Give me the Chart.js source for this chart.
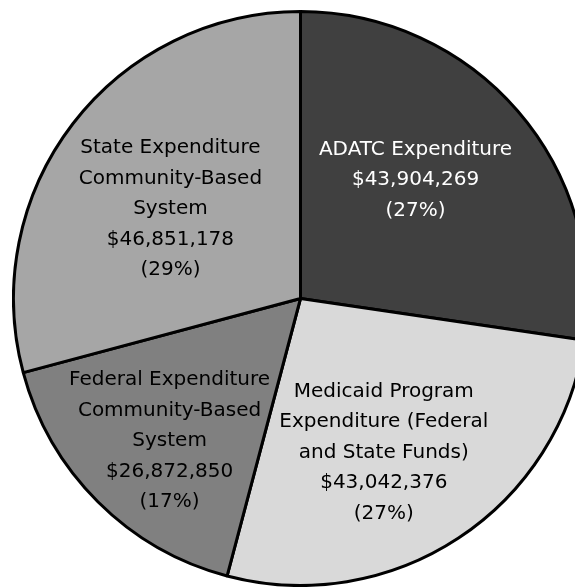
<!DOCTYPE html>
<html>

<head>
    <title>Expenditure Pie</title>
    <script src="https://cdn.jsdelivr.net/npm/chart.js@4.4.0/dist/chart.umd.min.js"></script>
    <style>
        html, body {
            margin: 0;
            padding: 0;
            background: #fff;
            overflow: hidden;
        }

        #wrap {
            position: absolute;
            left: 12px;
            top: 10px;
            width: 577px;
            height: 577px;
        }
    </style>
</head>

<body>
    <div id="wrap"><canvas id="pie"></canvas></div>
    <script>
        // Slices, clockwise from 12 o'clock
        var categories = [
            ["ADATC Expenditure"],
            ["Medicaid Program", "Expenditure (Federal", "and State Funds)"],
            ["Federal Expenditure", "Community-Based", "System"],
            ["State Expenditure", "Community-Based", "System"]
        ];
        var amounts = [43904269, 43042376, 26872850, 46851178];
        var percentLabels = ["(27%)", "(27%)", "(17%)", "(29%)"];

        var sliceColors = ["#404040", "#d9d9d9", "#808080", "#a6a6a6"];
        var textColors = ["#ffffff", "#000000", "#000000", "#000000"];

        // where each label sits, as a share of the radius, plus a small turn in degrees
        var labelRadius = [0.575, 0.61, 0.675, 0.55];
        var labelTurn = [-5, 5, -2.4, -3];

        function money(v) {
            return "$" + v.toLocaleString("en-US");
        }

        // Draw the multi-line labels inside each slice
        var sliceLabels = {
            id: "sliceLabels",
            afterDatasetsDraw: function(chart) {
                var ctx = chart.ctx;
                var arcs = chart.getDatasetMeta(0).data;
                ctx.save();
                ctx.font = "20px 'DejaVu Sans'";
                ctx.textAlign = "center";
                ctx.textBaseline = "middle";
                arcs.forEach(function(arc, i) {
                    var mid = (arc.startAngle + arc.endAngle) / 2 + labelTurn[i] * Math.PI / 180;
                    var r = arc.outerRadius * labelRadius[i];
                    var cx = arc.x + Math.cos(mid) * r;
                    var cy = arc.y + Math.sin(mid) * r;
                    var lines = categories[i].concat([money(amounts[i]), percentLabels[i]]);
                    var lh = 30.5;
                    var y0 = cy - (lines.length - 1) * lh / 2;
                    ctx.fillStyle = textColors[i];
                    lines.forEach(function(t, k) {
                        ctx.fillText(t, cx, y0 + k * lh);
                    });
                });
                ctx.restore();
            }
        };

        var ctx = document.getElementById("pie").getContext("2d");
        var pieChart = new Chart(ctx, {
            type: "pie",
            data: {
                labels: categories.map(function(c) { return c.join(" "); }),
                datasets: [{
                    data: amounts,
                    backgroundColor: sliceColors,
                    borderColor: "#000000",
                    borderWidth: 3
                }]
            },
            options: {
                responsive: true,
                maintainAspectRatio: false,
                animation: false,
                layout: { padding: 0 },
                plugins: {
                    legend: { display: false },
                    tooltip: { enabled: false }
                }
            },
            plugins: [sliceLabels]
        });
    </script>
</body>

</html>
